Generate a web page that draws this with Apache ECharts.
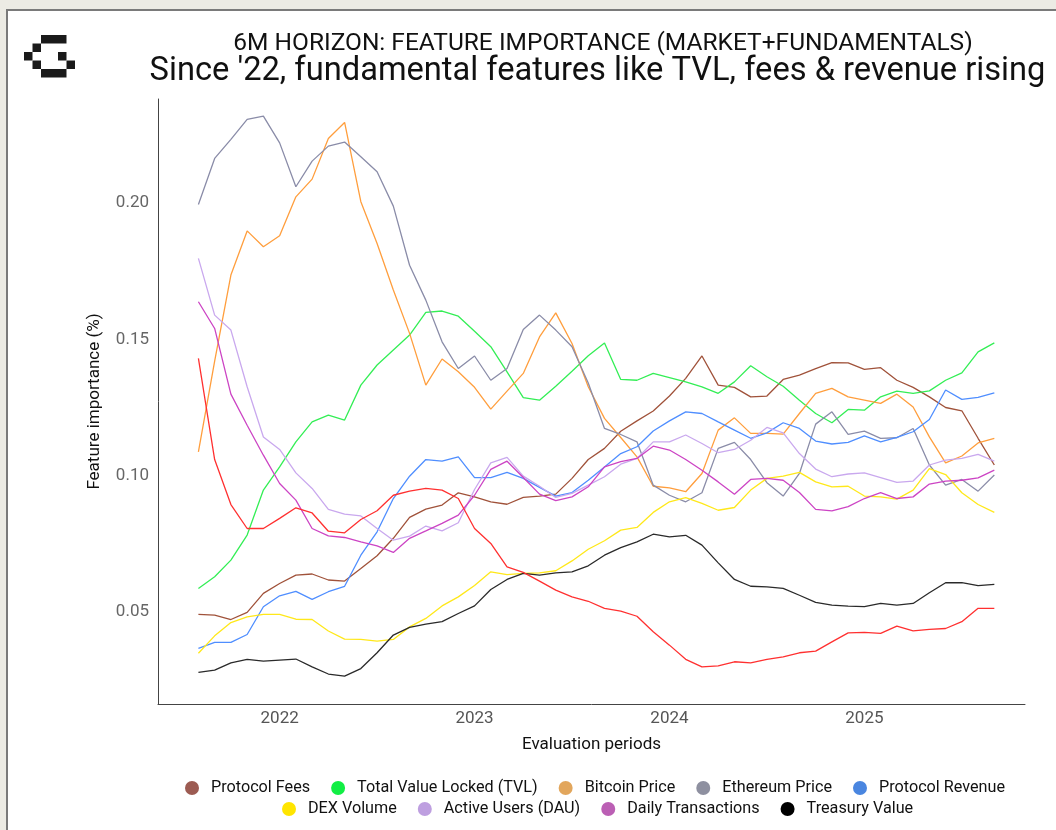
<!DOCTYPE html>
<html>
<head>
<meta charset="utf-8">
<script src="https://cdn.jsdelivr.net/npm/echarts@6/dist/echarts.min.js"></script>
<style>
html,body{margin:0;padding:0;width:1056px;height:830px;background:#ECEBE4;overflow:hidden;}
#panel{position:absolute;left:6px;top:9px;right:0;bottom:0;background:#fff;border-top:2px solid #7a7a7a;border-left:2px solid #7a7a7a;}
#chart{position:absolute;left:0;top:0;width:1056px;height:830px;}
</style>
</head>
<body>
<div id="panel"></div>
<div id="chart"></div>
<script>
const periods = [
 "2021-08","2021-09","2021-10","2021-11","2021-12","2022-01","2022-02","2022-03","2022-04","2022-05",
 "2022-06","2022-07","2022-08","2022-09","2022-10","2022-11","2022-12","2023-01","2023-02","2023-03",
 "2023-04","2023-05","2023-06","2023-07","2023-08","2023-09","2023-10","2023-11","2023-12","2024-01",
 "2024-02","2024-03","2024-04","2024-05","2024-06","2024-07","2024-08","2024-09","2024-10","2024-11",
 "2024-12","2025-01","2025-02","2025-03","2025-04","2025-05","2025-06","2025-07","2025-08","2025-09"
];
const xTickYears = [2022, 2023, 2024, 2025];
const yTickValues = [0.05, 0.10, 0.15, 0.20];

const protocolFees = [
 0.0491,0.0488,0.0472,0.0498,0.0568,0.0604,0.0635,0.0639,0.0617,0.0613,
 0.0659,0.0706,0.0770,0.0847,0.0877,0.0892,0.0937,0.0922,0.0904,0.0895,
 0.0920,0.0925,0.0932,0.0990,0.1059,0.1100,0.1163,0.1201,0.1237,0.1292,
 0.1357,0.1439,0.1332,0.1324,0.1289,0.1292,0.1353,0.1369,0.1393,0.1415,
 0.1414,0.1390,0.1396,0.1350,0.1324,0.1289,0.1250,0.1238,0.1137,0.1039];
const tvl = [
 0.0586,0.0629,0.0690,0.0782,0.0947,0.1032,0.1124,0.1197,0.1222,0.1204,
 0.1332,0.1406,0.1461,0.1516,0.1599,0.1604,0.1585,0.1530,0.1473,0.1381,
 0.1286,0.1277,0.1328,0.1383,0.1440,0.1487,0.1353,0.1350,0.1375,0.1360,
 0.1344,0.1326,0.1302,0.1344,0.1403,0.1363,0.1328,0.1277,0.1228,0.1194,
 0.1243,0.1240,0.1289,0.1310,0.1302,0.1311,0.1350,0.1377,0.1454,0.1487];
const bitcoin = [
 0.1087,0.1420,0.1736,0.1898,0.1840,0.1880,0.2023,0.2088,0.2237,0.2296,
 0.2005,0.1852,0.1681,0.1522,0.1332,0.1428,0.1381,0.1324,0.1244,0.1310,
 0.1375,0.1509,0.1597,0.1485,0.1326,0.1210,0.1140,0.1069,0.0961,0.0955,
 0.0941,0.1008,0.1167,0.1212,0.1155,0.1155,0.1152,0.1228,0.1302,0.1320,
 0.1289,0.1277,0.1265,0.1299,0.1252,0.1142,0.1047,0.1072,0.1120,0.1137];
const ethereum = [
 0.1995,0.2164,0.2234,0.2307,0.2319,0.2221,0.2060,0.2154,0.2209,0.2224,
 0.2170,0.2115,0.1989,0.1772,0.1644,0.1491,0.1393,0.1439,0.1350,0.1393,
 0.1536,0.1589,0.1534,0.1473,0.1340,0.1173,0.1151,0.1124,0.0965,0.0928,
 0.0904,0.0937,0.1100,0.1122,0.1059,0.0974,0.0925,0.1008,0.1189,0.1234,
 0.1151,0.1163,0.1137,0.1139,0.1173,0.1039,0.0965,0.0986,0.0943,0.1002];
const protocolRevenue = [
 0.0366,0.0388,0.0388,0.0417,0.0519,0.0559,0.0575,0.0546,0.0574,0.0594,
 0.0708,0.0794,0.0916,0.0998,0.1059,0.1053,0.1069,0.0993,0.0993,0.1012,
 0.0990,0.0957,0.0925,0.0938,0.0983,0.1032,0.1081,0.1106,0.1164,0.1201,
 0.1234,0.1228,0.1197,0.1167,0.1137,0.1157,0.1194,0.1173,0.1127,0.1116,
 0.1122,0.1146,0.1124,0.1140,0.1161,0.1206,0.1314,0.1280,0.1287,0.1304];
const dexVolume = [
 0.0348,0.0412,0.0461,0.0482,0.0491,0.0491,0.0473,0.0472,0.0430,0.0400,
 0.0399,0.0393,0.0399,0.0445,0.0476,0.0522,0.0555,0.0597,0.0647,0.0637,
 0.0641,0.0643,0.0651,0.0687,0.0730,0.0761,0.0800,0.0810,0.0865,0.0904,
 0.0919,0.0898,0.0873,0.0883,0.0947,0.0990,0.0998,0.1012,0.0977,0.0959,
 0.0961,0.0925,0.0922,0.0914,0.0947,0.1026,0.1004,0.0937,0.0894,0.0865];
const activeUsers = [
 0.1797,0.1589,0.1534,0.1326,0.1142,0.1096,0.1010,0.0953,0.0876,0.0859,
 0.0852,0.0806,0.0763,0.0778,0.0815,0.0797,0.0827,0.0949,0.1047,0.1067,
 0.0998,0.0961,0.0920,0.0935,0.0965,0.0996,0.1042,0.1063,0.1124,0.1124,
 0.1149,0.1118,0.1084,0.1096,0.1130,0.1177,0.1157,0.1081,0.1024,0.0996,
 0.1006,0.1010,0.0993,0.0975,0.0980,0.1039,0.1057,0.1063,0.1078,0.1053];
const dailyTransactions = [
 0.1638,0.1540,0.1299,0.1185,0.1075,0.0971,0.0910,0.0806,0.0779,0.0773,
 0.0757,0.0742,0.0718,0.0770,0.0797,0.0825,0.0855,0.0928,0.1023,0.1053,
 0.0993,0.0932,0.0908,0.0922,0.0959,0.1032,0.1051,0.1063,0.1108,0.1094,
 0.1059,0.1020,0.0977,0.0932,0.0986,0.0990,0.0983,0.0938,0.0876,0.0871,
 0.0886,0.0916,0.0938,0.0916,0.0922,0.0969,0.0980,0.0983,0.0992,0.1020];
const treasuryValue = [
 0.0278,0.0286,0.0313,0.0326,0.0319,0.0323,0.0327,0.0298,0.0272,0.0264,
 0.0292,0.0350,0.0415,0.0443,0.0455,0.0464,0.0494,0.0522,0.0582,0.0619,
 0.0641,0.0635,0.0643,0.0647,0.0669,0.0708,0.0736,0.0757,0.0785,0.0775,
 0.0781,0.0745,0.0680,0.0619,0.0594,0.0592,0.0586,0.0561,0.0535,0.0525,
 0.0521,0.0519,0.0531,0.0525,0.0531,0.0570,0.0607,0.0607,0.0596,0.0601];
const unlabeledRed = [
 0.1430,0.1059,0.0894,0.0806,0.0806,0.0843,0.0882,0.0863,0.0796,0.0790,
 0.0839,0.0871,0.0928,0.0943,0.0953,0.0947,0.0916,0.0806,0.0751,0.0665,
 0.0645,0.0613,0.0580,0.0555,0.0539,0.0513,0.0503,0.0484,0.0427,0.0378,
 0.0326,0.0298,0.0302,0.0317,0.0313,0.0326,0.0335,0.0350,0.0356,0.0390,
 0.0423,0.0425,0.0421,0.0448,0.0430,0.0436,0.0439,0.0464,0.0513,0.0513];

const seriesDefs = [
 {name:"Protocol Fees", data:protocolFees, line:"#A0523A", icon:"#9C5B52"},
 {name:"Total Value Locked (TVL)", data:tvl, line:"#33EE55", icon:"#11EE44"},
 {name:"Bitcoin Price", data:bitcoin, line:"#FF9E3D", icon:"#E2A65C"},
 {name:"Ethereum Price", data:ethereum, line:"#8A8CA8", icon:"#8E90A0"},
 {name:"Protocol Revenue", data:protocolRevenue, line:"#4F8EFF", icon:"#4A86E0"},
 {name:"DEX Volume", data:dexVolume, line:"#FFE81A", icon:"#FFE500"},
 {name:"Active Users (DAU)", data:activeUsers, line:"#C9A8EE", icon:"#BE9FE0"},
 {name:"Daily Transactions", data:dailyTransactions, line:"#CC44C4", icon:"#BB5FB4"},
 {name:"Treasury Value", data:treasuryValue, line:"#2A2A2A", icon:"#000000"},
 {name:"Other", data:unlabeledRed, line:"#FF3030", icon:"#FF3030"}
];

function periodToYear(p){const [y,m]=p.split("-").map(Number);return y+(m-1)/12;}

const FONT = "Roboto, 'Noto Sans', sans-serif";
const series = seriesDefs.map(s => ({
  name: s.name, type: "line", showSymbol: false, symbol: "circle",
  data: s.data.map((v,i)=>[periodToYear(periods[i]), v]),
  lineStyle: {color: s.line, width: 1.3},
  itemStyle: {color: s.icon},
  emphasis: {disabled: true},
  animation: false
}));

const legendText = {fontFamily: FONT, fontSize: 16.2, color: "#111", padding: [0,0,0,7]};
const chart = echarts.init(document.getElementById("chart"));
chart.setOption({
  backgroundColor: "transparent",
  animation: false,
  title: [
    {text: "6M HORIZON: FEATURE IMPORTANCE (MARKET+FUNDAMENTALS)", left: 598, top: 26, textAlign: "center",
     textStyle: {fontFamily: FONT, fontSize: 24.5, fontWeight: "normal", color: "#111"}},
    {text: "Since '22, fundamental features like TVL, fees & revenue rising", left: 592.5, top: 50, textAlign: "center",
     textStyle: {fontFamily: FONT, fontSize: 32.65, fontWeight: "normal", color: "#111"}}
  ],
  graphic: [
    {type:"group", left: 24, top: 35, children: [
      {type:"rect", shape:{x:17,y:0,width:25.5,height:8.5}, style:{fill:"#1a1a1a"}},
      {type:"rect", shape:{x:8.5,y:8.5,width:8.5,height:8.5}, style:{fill:"#1a1a1a"}},
      {type:"rect", shape:{x:0,y:17,width:8.5,height:8.5}, style:{fill:"#1a1a1a"}},
      {type:"rect", shape:{x:34,y:17,width:8.5,height:8.5}, style:{fill:"#1a1a1a"}},
      {type:"rect", shape:{x:8.5,y:25.5,width:8.5,height:8.5}, style:{fill:"#1a1a1a"}},
      {type:"rect", shape:{x:42.5,y:25.5,width:8.5,height:8.5}, style:{fill:"#1a1a1a"}},
      {type:"rect", shape:{x:17,y:34,width:25.5,height:8.5}, style:{fill:"#1a1a1a"}}
    ]}
  ],
  legend: [
    {data: seriesDefs.slice(0,5).map(s=>s.name), left: 180, top: 775, icon: "circle",
     itemWidth: 14, itemHeight: 14, itemGap: 21, textStyle: legendText, selectedMode: false},
    {data: seriesDefs.slice(5,9).map(s=>s.name), left: 277, top: 796, icon: "circle",
     itemWidth: 14, itemHeight: 14, itemGap: 21, textStyle: legendText, selectedMode: false}
  ],
  grid: {left: 158, right: 31, top: 99, bottom: 126},
  xAxis: {
    type: "value", min: 2021.376, max: 2025.824,
    name: "Evaluation periods", nameLocation: "middle", nameGap: 32,
    nameTextStyle: {fontFamily: FONT, fontSize: 17, color: "#111"},
    axisLine: {show: true, lineStyle: {color: "#444", width: 1}},
    axisTick: {show: false},
    splitLine: {show: false},
    axisLabel: {customValues: xTickYears, formatter: v => String(Math.round(v)),
      fontFamily: FONT, fontSize: 17, color: "#555", margin: 6}
  },
  yAxis: {
    type: "value", min: 0.0162, max: 0.2382,
    name: "Feature importance (%)", nameLocation: "middle", nameGap: 55, nameRotate: 90,
    nameTextStyle: {fontFamily: FONT, fontSize: 17, color: "#111"},
    axisLine: {show: true, lineStyle: {color: "#444", width: 1}},
    axisTick: {show: false},
    splitLine: {show: false},
    axisLabel: {customValues: yTickValues, formatter: v => v.toFixed(2),
      fontFamily: FONT, fontSize: 17, color: "#666", margin: 9}
  },
  series: series
});
</script>
</body>
</html>
